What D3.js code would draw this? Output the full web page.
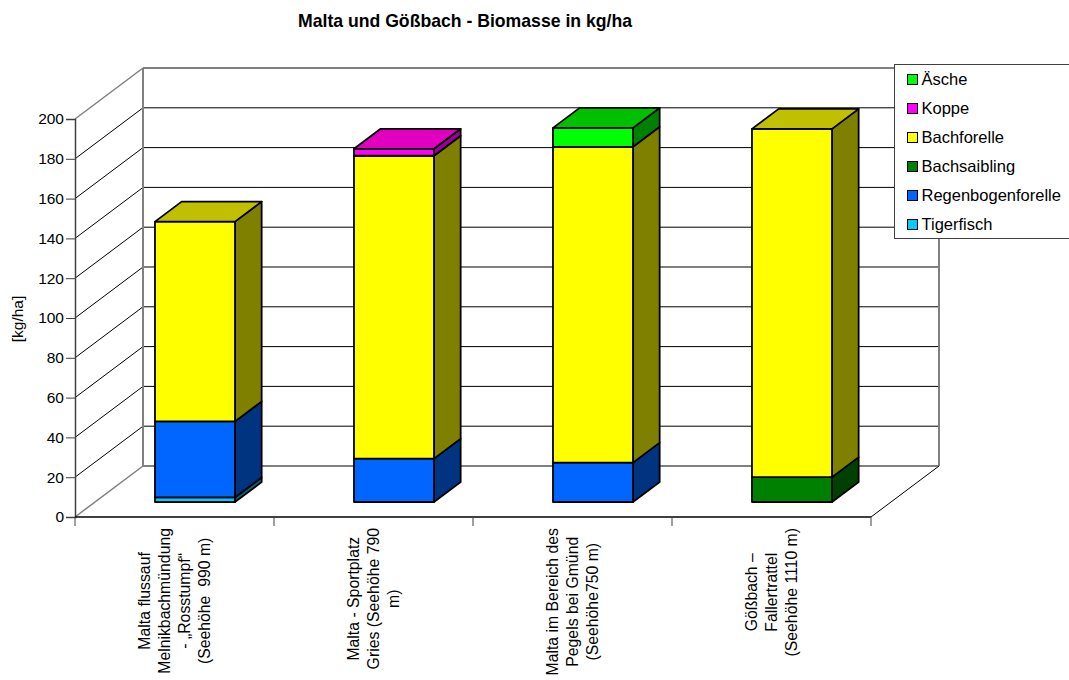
<!DOCTYPE html>
<html>
<head>
<meta charset="utf-8">
<script src="https://cdn.jsdelivr.net/npm/d3@7"></script>
<style>
  html, body { margin: 0; padding: 0; background: #fff; }
  svg { display: block; }
  text { font-family: "Liberation Sans", Arial, sans-serif; fill: #000; }
</style>
</head>
<body>
<script>
const w = 1069;
const h = 680;

const sites = [
  ["Malta flussauf", "Melnikbachmündung", "- „Rosstumpf“", "(Seehöhe  990 m)"],
  ["Malta - Sportplatz", "Gries (Seehöhe 790", "m)"],
  ["Malta im Bereich des", "Pegels bei Gmünd", "(Seehöhe750 m)"],
  ["Gößbach –", "Fallertrattel", "(Seehöhe 1110 m)"],
];
const siteIds = [0, 1, 2, 3];

// bottom to top in the stack
const species = ["Tigerfisch", "Regenbogenforelle", "Bachsaibling", "Bachforelle", "Koppe", "Äsche"];
const tigerfisch = [2.3, 0, 0, 0];
const regenbogenforelle = [38.2, 21.8, 19.8, 0];
const bachsaibling = [0, 0, 0, 12.5];
const bachforelle = [100.4, 152.2, 158.7, 175];
const koppe = [0, 3.5, 0, 0];
const aesche = [0, 0, 9.5, 0];
const yTicks = [0, 20, 40, 60, 80, 100, 120, 140, 160, 180, 200];

const seriesValues = [tigerfisch, regenbogenforelle, bachsaibling, bachforelle, koppe, aesche];

// front, side and top colour of each species
const colors = {
  "Tigerfisch": ["#00ccff", "#006680", "#00a3cc"],
  "Regenbogenforelle": ["#0066ff", "#003380", "#0052cc"],
  "Bachsaibling": ["#008000", "#004000", "#006600"],
  "Bachforelle": ["#ffff00", "#808000", "#c0c000"],
  "Koppe": ["#ff00ff", "#990099", "#e000c0"],
  "Äsche": ["#00ff00", "#008000", "#00c000"],
};

const svg = d3.select("body").append("svg").attr("width", w).attr("height", h);

const x = d3.scaleBand().domain(siteIds).range([75, 871]);
const y = d3.scaleLinear().domain([0, 200]).range([517, 119]);

// depth of the chart box, 0 = front plane, 1 = back wall
const depth = { dx: 68, dy: -51 };
const zFront = 0.294;
const zBack = 0.686;
const barWidth = 80;

function project(px, py, z) {
  return [px + depth.dx * z, py + depth.dy * z];
}
function poly(points) {
  return "M" + points.map((p) => p.join(",")).join("L") + "Z";
}

const left = x.range()[0];
const right = x.range()[1];

// grid on the side wall and the back wall
const grid = svg.append("g");
yTicks.forEach(function (t) {
  const grey = t === 0 || t === 200;
  const a = [left, y(t)];
  const b = project(left, y(t), 1);
  const c = project(right, y(t), 1);
  grid.append("line")
    .attr("x1", a[0]).attr("y1", a[1]).attr("x2", b[0]).attr("y2", b[1])
    .attr("stroke", grey ? "#808080" : "#000").attr("stroke-width", grey ? 1.5 : 1);
  grid.append("line")
    .attr("x1", b[0]).attr("y1", b[1]).attr("x2", c[0]).attr("y2", c[1])
    .attr("stroke", grey ? "#808080" : "#000").attr("stroke-width", grey ? 2 : 1);
});

// wall edges
[left, right].forEach(function (px) {
  const top = project(px, y(200), 1);
  const bottom = project(px, y(0), 1);
  grid.append("line")
    .attr("x1", top[0]).attr("y1", top[1]).attr("x2", bottom[0]).attr("y2", bottom[1])
    .attr("stroke", "#808080").attr("stroke-width", 2);
});
const floorCorner = project(right, y(0), 1);
grid.append("line")
  .attr("x1", right).attr("y1", y(0)).attr("x2", floorCorner[0]).attr("y2", floorCorner[1])
  .attr("stroke", "#000").attr("stroke-width", 1);

// stacked columns
const table = siteIds.map(function (id) {
  const row = { id: id };
  species.forEach(function (s, i) {
    row[s] = seriesValues[i][id];
  });
  return row;
});
const stacked = d3.stack().keys(species)(table);

const barLayer = svg.append("g")
  .attr("stroke", "#000")
  .attr("stroke-width", 1.8)
  .attr("stroke-linejoin", "round");

siteIds.forEach(function (id) {
  const x0 = x(id) + x.bandwidth() / 2 - barWidth / 2 + 0.5;
  const x1 = x0 + barWidth;
  const parts = stacked.filter((layer) => layer[id][1] > layer[id][0]);

  parts.forEach(function (layer, i) {
    const name = layer.key;
    const y0 = y(layer[id][0]);
    const y1 = y(layer[id][1]);
    const c = colors[name];

    // side face
    barLayer.append("path")
      .attr("d", poly([
        project(x1, y0, zFront), project(x1, y0, zBack),
        project(x1, y1, zBack), project(x1, y1, zFront),
      ]))
      .attr("fill", c[1]);

    // front face
    barLayer.append("path")
      .attr("d", poly([
        project(x0, y0, zFront), project(x1, y0, zFront),
        project(x1, y1, zFront), project(x0, y1, zFront),
      ]))
      .attr("fill", c[0]);

    // only the top segment shows its lid
    if (i === parts.length - 1) {
      barLayer.append("path")
        .attr("d", poly([
          project(x0, y1, zFront), project(x1, y1, zFront),
          project(x1, y1, zBack), project(x0, y1, zBack),
        ]))
        .attr("fill", c[2]);
    }
  });
});

// value axis
const yAxis = svg.append("g")
  .attr("transform", "translate(" + left + ",0)")
  .call(d3.axisLeft(y).tickValues(yTicks).tickSize(9).tickPadding(2));
yAxis.select(".domain").attr("stroke", "#404040").attr("stroke-width", 1.5);
yAxis.selectAll(".tick line").attr("stroke", "#404040");
yAxis.selectAll("text").attr("font-size", 15.5).attr("font-family", "Liberation Sans");

svg.append("text")
  .attr("transform", "translate(23,319) rotate(-90)")
  .attr("text-anchor", "middle")
  .attr("font-size", 15.5)
  .text("[kg/ha]");

// category axis, ticks sit between the columns
const xEdges = siteIds.map((id) => x(id)).concat([right]);
svg.append("line")
  .attr("x1", left).attr("x2", right).attr("y1", y(0)).attr("y2", y(0))
  .attr("stroke", "#000").attr("stroke-width", 1.5);
svg.selectAll(".xtick")
  .data(xEdges)
  .enter()
  .append("line")
  .attr("class", "xtick")
  .attr("x1", (d) => d).attr("x2", (d) => d)
  .attr("y1", y(0)).attr("y2", y(0) + 9)
  .attr("stroke", "#404040");

// rotated labels: block centred on the band, longest line ends at a common height
siteIds.forEach(function (id) {
  const lines = sites[id];
  const cx = x(id) + x.bandwidth() / 2 + 5;
  const g = svg.append("g");
  const texts = g.selectAll("text")
    .data(lines)
    .enter()
    .append("text")
    .attr("text-anchor", "middle")
    .attr("font-size", 15.8)
    .style("white-space", "pre")
    .text((d) => d);
  let longest = 0;
  texts.each(function () {
    longest = Math.max(longest, this.getComputedTextLength());
  });
  const cy = 528 + longest / 2;
  texts.attr("transform", function (d, i) {
    const tx = cx + (i - (lines.length - 1) / 2) * 20;
    return "translate(" + tx + "," + cy + ") rotate(-90)";
  });
});

// title
svg.append("text")
  .attr("x", 465)
  .attr("y", 27)
  .attr("text-anchor", "middle")
  .attr("font-size", 19)
  .attr("font-weight", "bold")
  .attr("textLength", 334)
  .attr("lengthAdjust", "spacingAndGlyphs")
  .text("Malta und Gößbach - Biomasse in kg/ha");

// legend
const legendNames = species.slice().reverse();
const legend = svg.append("g");
legend.append("rect")
  .attr("x", 894.5).attr("y", 64.5).attr("width", 180).attr("height", 174)
  .attr("fill", "#fff").attr("stroke", "#404040").attr("stroke-width", 1);
const legendY = d3.scalePoint().domain(legendNames).range([79.5, 224.5]);
legendNames.forEach(function (name) {
  legend.append("rect")
    .attr("x", 907.5).attr("y", legendY(name) - 5).attr("width", 10).attr("height", 10)
    .attr("fill", colors[name][0]).attr("stroke", "#000").attr("stroke-width", 1);
  legend.append("text")
    .attr("x", 921.5).attr("y", legendY(name) + 5.5)
    .attr("font-size", 16.5)
    .text(name);
});
</script>
</body>
</html>
